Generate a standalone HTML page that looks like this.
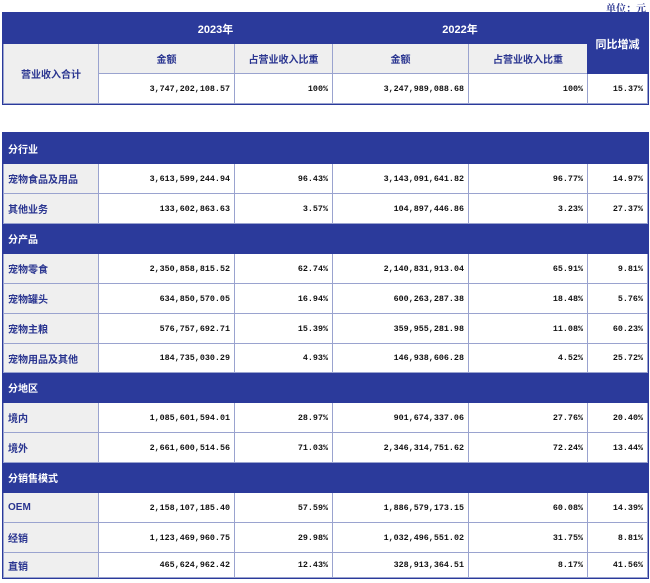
<!DOCTYPE html>
<html><head><meta charset="utf-8"><style>
body{margin:0;width:650px;height:583px;background:#fff;position:relative;overflow:hidden;font-family:"Liberation Sans","Noto Sans CJK SC",sans-serif;}
table{position:absolute;left:3px;border-collapse:collapse;table-layout:fixed;width:644px;outline:1px solid #2b3a9b;}
td{border:1px solid #9aa3cf;padding:0 4px;font-size:10px;font-weight:bold;overflow:hidden;white-space:nowrap;}
.b{background:#2b3a9b;color:#fff;border-color:#2b3a9b;}
.g{background:#efefef;color:#2a3590;}
.w{background:#fff;}
.n{text-align:right;font-family:"Liberation Mono","Noto Sans CJK SC",monospace;font-size:8.4px;color:#111;}
.c{text-align:center;}
.unit{position:absolute;right:4px;top:0;font-size:10px;font-weight:bold;color:#2a3590;font-family:"Liberation Serif","Noto Serif CJK SC",serif;}
</style></head><body>
<div class="unit">单位：元</div>
<table style="top:13px">
<colgroup><col style="width:95px"><col style="width:136px"><col style="width:98px"><col style="width:136px"><col style="width:119px"><col style="width:60px"></colgroup>
<tr style="height:30px"><td class="b"></td><td class="b c" colspan="2" style="font-size:11px">2023年</td><td class="b c" colspan="2" style="font-size:11px">2022年</td><td class="b c" rowspan="2" style="font-size:11px">同比增减</td></tr>
<tr style="height:30px"><td class="g c" rowspan="2">营业收入合计</td><td class="g c">金额</td><td class="g c">占营业收入比重</td><td class="g c">金额</td><td class="g c">占营业收入比重</td></tr>
<tr style="height:30px"><td class="w n">3,747,202,108.57</td><td class="w n">100%</td><td class="w n">3,247,989,088.68</td><td class="w n">100%</td><td class="w n">15.37%</td></tr>
</table>
<table style="top:133px">
<colgroup><col style="width:95px"><col style="width:136px"><col style="width:98px"><col style="width:136px"><col style="width:119px"><col style="width:60px"></colgroup>
<tr style="height:30px"><td class="b" colspan="6">分行业</td></tr>
<tr style="height:30px"><td class="g">宠物食品及用品</td><td class="n">3,613,599,244.94</td><td class="n">96.43%</td><td class="n">3,143,091,641.82</td><td class="n">96.77%</td><td class="n">14.97%</td></tr>
<tr style="height:30px"><td class="g">其他业务</td><td class="n">133,602,863.63</td><td class="n">3.57%</td><td class="n">104,897,446.86</td><td class="n">3.23%</td><td class="n">27.37%</td></tr>
<tr style="height:30px"><td class="b" colspan="6">分产品</td></tr>
<tr style="height:30px"><td class="g">宠物零食</td><td class="n">2,350,858,815.52</td><td class="n">62.74%</td><td class="n">2,140,831,913.04</td><td class="n">65.91%</td><td class="n">9.81%</td></tr>
<tr style="height:30px"><td class="g">宠物罐头</td><td class="n">634,850,570.05</td><td class="n">16.94%</td><td class="n">600,263,287.38</td><td class="n">18.48%</td><td class="n">5.76%</td></tr>
<tr style="height:30px"><td class="g">宠物主粮</td><td class="n">576,757,692.71</td><td class="n">15.39%</td><td class="n">359,955,281.98</td><td class="n">11.08%</td><td class="n">60.23%</td></tr>
<tr style="height:29px"><td class="g">宠物用品及其他</td><td class="n">184,735,030.29</td><td class="n">4.93%</td><td class="n">146,938,606.28</td><td class="n">4.52%</td><td class="n">25.72%</td></tr>
<tr style="height:30px"><td class="b" colspan="6">分地区</td></tr>
<tr style="height:30px"><td class="g">境内</td><td class="n">1,085,601,594.01</td><td class="n">28.97%</td><td class="n">901,674,337.06</td><td class="n">27.76%</td><td class="n">20.40%</td></tr>
<tr style="height:30px"><td class="g">境外</td><td class="n">2,661,600,514.56</td><td class="n">71.03%</td><td class="n">2,346,314,751.62</td><td class="n">72.24%</td><td class="n">13.44%</td></tr>
<tr style="height:30px"><td class="b" colspan="6">分销售模式</td></tr>
<tr style="height:30px"><td class="g">OEM</td><td class="n">2,158,107,185.40</td><td class="n">57.59%</td><td class="n">1,886,579,173.15</td><td class="n">60.08%</td><td class="n">14.39%</td></tr>
<tr style="height:30px"><td class="g">经销</td><td class="n">1,123,469,960.75</td><td class="n">29.98%</td><td class="n">1,032,496,551.02</td><td class="n">31.75%</td><td class="n">8.81%</td></tr>
<tr style="height:25px"><td class="g">直销</td><td class="n">465,624,962.42</td><td class="n">12.43%</td><td class="n">328,913,364.51</td><td class="n">8.17%</td><td class="n">41.56%</td></tr>
</table>
</body></html>
